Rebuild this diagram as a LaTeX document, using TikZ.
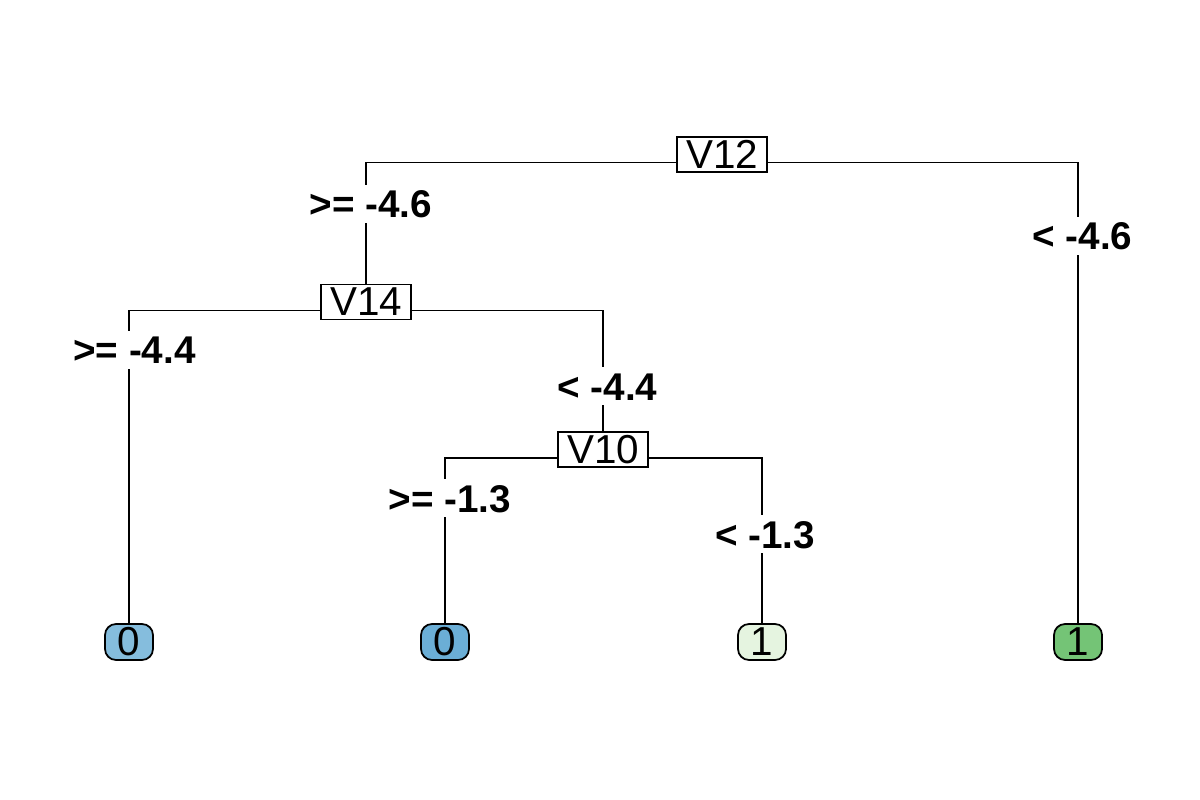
\documentclass[tikz,border=0pt]{standalone}
\usepackage{fontspec}
\setmainfont{Liberation Sans}
\definecolor{leafblueA}{HTML}{85BDDD}
\definecolor{leafblueB}{HTML}{6BAED6}
\definecolor{leafgreenA}{HTML}{E5F4E0}
\definecolor{leafgreenB}{HTML}{74C476}
\tikzset{
	split/.style={draw, fill=white, line width=1pt, inner sep=0pt, minimum width=1.8cm, minimum height=0.7cm, font=\fontsize{23}{23}\selectfont},
	leaf/.style={draw, line width=1pt, rounded corners=0.22cm, inner sep=0pt, minimum width=0.96cm, minimum height=0.72cm, font=\fontsize{23}{23}\selectfont},
	cond/.style={inner sep=0pt, text height=0.66cm, text depth=0.1cm, anchor=base, font=\bfseries\fontsize{22}{22}\selectfont},
	branch/.style={line width=1pt}
}
\begin{document}
\begin{tikzpicture}[x=0.02cm, y=-0.02cm]
		\useasboundingbox ( 0, 0 ) rectangle ( 1200, 800 );

		% узлы разбиения
		\node [split] (V12) at ( 722, 154.5 ) {V12};
		\node [split] (V14) at ( 366, 302 ) {V14};
		\node [split] (V10) at ( 603, 449.5 ) {V10};

		% листья
		\node [leaf, fill=leafblueA] (leafA) at ( 129, 642 ) {0};
		\node [leaf, fill=leafblueB] (leafB) at ( 445, 642 ) {0};
		\node [leaf, fill=leafgreenA] (leafC) at ( 762, 642 ) {1};
		\node [leaf, fill=leafgreenB] (leafD) at ( 1078, 642 ) {1};

		% условия
		\node [cond] (geA) at ( 371, 218 ) {>= -4.6};
		\node [cond] (ltA) at ( 1082.5, 250 ) {< -4.6};
		\node [cond] (geB) at ( 134.5, 364 ) {>= -4.4};
		\node [cond] (ltB) at ( 607.5, 400 ) {< -4.4};
		\node [cond] (geC) at ( 450, 512 ) {>= -1.3};
		\node [cond] (ltC) at ( 765, 548 ) {< -1.3};

		% ветви V12
		\draw [branch] ([yshift=-0.16cm]V12.west) -| (geA.north -| V14.north);
		\draw [branch] (geA.south -| V14.north) -- (V14.north);
		\draw [branch] ([yshift=-0.16cm]V12.east) -| (ltA.north -| leafD.north);
		\draw [branch] (ltA.south -| leafD.north) -- (leafD.north);

		% ветви V14
		\draw [branch] ([yshift=-0.17cm]V14.west) -| (geB.north -| leafA.north);
		\draw [branch] (geB.south -| leafA.north) -- (leafA.north);
		\draw [branch] ([yshift=-0.17cm]V14.east) -| (ltB.north -| V10.north);
		\draw [branch] (ltB.south -| V10.north) -- (V10.north);

		% ветви V10
		\draw [branch] ([yshift=-0.17cm]V10.west) -| (geC.north -| leafB.north);
		\draw [branch] (geC.south -| leafB.north) -- (leafB.north);
		\draw [branch] ([yshift=-0.17cm]V10.east) -| (ltC.north -| leafC.north);
		\draw [branch] (ltC.south -| leafC.north) -- (leafC.north);
\end{tikzpicture}
\end{document}
